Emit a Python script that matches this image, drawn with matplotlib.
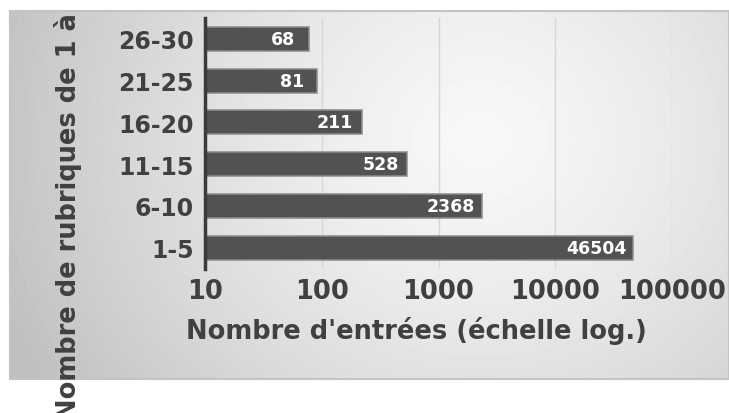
import numpy as np
import matplotlib.pyplot as plt
from matplotlib.patches import Rectangle
from matplotlib.transforms import Bbox, TransformedBbox

# data
categories = ['1-5', '6-10', '11-15', '16-20', '21-25', '26-30']
entries = [46504, 2368, 528, 211, 81, 68]
xticks = [10, 100, 1000, 10000, 100000]

W, H = 729, 414
fig = plt.figure(figsize=(W / 100, H / 100), dpi=100)
fig.patch.set_facecolor('white')

# grey panel with a radial gradient behind the plot
px0, px1, py0, py1 = 10, 729, 12, 380
bg = fig.add_axes([px0 / W, 1 - py1 / H, (px1 - px0) / W, (py1 - py0) / H], zorder=0)
xx, yy = np.meshgrid(np.arange(px0, px1), np.arange(py0, py1))
r = np.sqrt((xx - 480) ** 2 + ((yy - 140) * 1.1) ** 2) / 480
shade = np.clip(0.97 - 0.2 * r ** 1.4, 0.75, 1)
bg.imshow(shade, cmap='gray', vmin=0, vmax=1, aspect='auto', interpolation='bilinear')
# faint concentric texture
for rad in np.arange(20, 900, 9):
    t = np.linspace(0, 2 * np.pi, 600)
    bg.plot(480 - px0 + rad * np.cos(t), 140 - py0 + rad * np.sin(t) / 1.1,
            color='white', lw=0.4, alpha=0.18, ls=(0, (3, 3)))
bg.set_xlim(-0.5, px1 - px0 - 0.5)
bg.set_ylim(py1 - py0 - 0.5, -0.5)
bg.axis('off')
fig.patches.append(Rectangle((px0 / W, 1 - py1 / H), (px1 - px0) / W, (py1 - py0) / H,
                             transform=fig.transFigure, fill=False,
                             edgecolor='#c4c4c4', lw=1.5, zorder=1))

ax = fig.add_axes([205 / W, 1 - 269.5 / H, 467 / W, 250.5 / H], zorder=2)
ax.set_facecolor('none')
ax.set_xscale('log')
ax.set_xlim(10, 100000)

y = np.arange(len(categories))
bars = ax.barh(y, entries, left=10, height=0.575, color='#545151',
               edgecolor='#8c8c8c', linewidth=1.1, zorder=3)
ax.set_ylim(-0.5, len(categories) - 0.5)

for yi, v in zip(y, entries):
    ax.annotate(str(v), (v, yi), xytext=(-5, 0), textcoords='offset points',
                ha='right', va='center', color='white', fontsize=12.5,
                fontweight='bold', zorder=4)

ax.set_xticks(xticks)
ax.set_xticklabels([str(t) for t in xticks])
ax.minorticks_off()
ax.set_yticks(y)
ax.set_yticklabels(categories)
ax.tick_params(axis='both', length=0, labelcolor='#404040')
ax.tick_params(axis='x', pad=7, labelsize=18.5)
ax.tick_params(axis='y', pad=8, labelsize=17)
for lab in ax.get_xticklabels() + ax.get_yticklabels():
    lab.set_fontweight('bold')

ax.grid(axis='x', color='#d6d6d6', lw=1, zorder=1)
ax.set_axisbelow(True)
for s in ['top', 'right', 'bottom']:
    ax.spines[s].set_visible(False)
ax.spines['left'].set_color('#3a3a3a')
ax.spines['left'].set_linewidth(2.5)
ax.spines['left'].set_zorder(5)

fig.text(416 / W, 1 - 331 / H, "Nombre d'entrées (échelle log.)", ha='center',
         va='center', fontsize=18.5, fontweight='bold', color='#404040')

# the y label runs past the panel top and gets cut there, as in the original
ylab = fig.text(68 / W, -6 / H, 'Nombre de rubriques de 1 à 30', rotation=90,
                ha='center', va='bottom', fontsize=18.5, fontweight='bold',
                color='#404040', zorder=6)
ylab.set_clip_box(TransformedBbox(Bbox([[0, -0.2], [1, 1 - py0 / H]]), fig.transFigure))
ylab.set_clip_on(True)

fig.savefig('out.png', dpi=100)
